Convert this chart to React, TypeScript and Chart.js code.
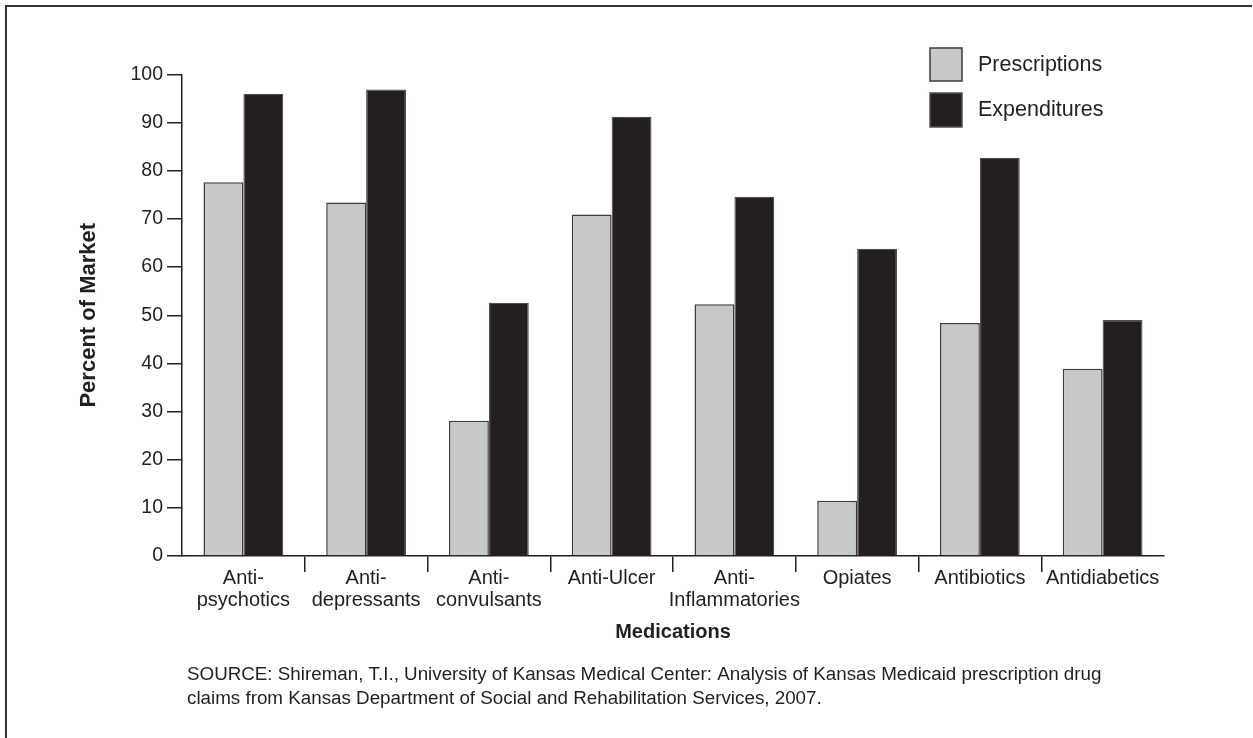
import { useEffect, useRef } from 'react';
import { Chart, registerables } from 'chart.js';

Chart.register(...registerables);

const categories: (string | string[])[] = [
  ['Anti-', 'psychotics'],
  ['Anti-', 'depressants'],
  ['Anti-', 'convulsants'],
  'Anti-Ulcer',
  ['Anti-', 'Inflammatories'],
  'Opiates',
  'Antibiotics',
  'Antidiabetics',
];
const prescriptions = [77.6, 73.4, 28.1, 70.9, 52.3, 11.5, 48.4, 38.9];
const expenditures = [96.0, 96.9, 52.6, 91.2, 74.6, 63.8, 82.7, 49.0];
const seriesLabels = ['Prescriptions', 'Expenditures'];
const yTitle = 'Percent of Market';
const xTitle = 'Medications';
const sourceLines = [
  'SOURCE: Shireman, T.I., University of Kansas Medical Center: Analysis of Kansas Medicaid prescription drug',
  'claims from Kansas Department of Social and Rehabilitation Services, 2007.',
];

const FONT = '"Liberation Sans", Arial, Helvetica, sans-serif';
const INK = '#231f20';
const GRAY = '#c7c8ca';

const decorPlugin = {
  id: 'decor',
  beforeDraw(chart: any) {
    const ctx = chart.ctx;
    ctx.save();
    ctx.fillStyle = '#ffffff';
    ctx.fillRect(0, 0, chart.width, chart.height);
    ctx.restore();
  },
  afterDraw(chart: any) {
    const ctx = chart.ctx;
    ctx.save();
    // frame
    ctx.strokeStyle = '#333333';
    ctx.lineWidth = 2;
    ctx.beginPath();
    ctx.moveTo(6, chart.height);
    ctx.lineTo(6, 6);
    ctx.lineTo(chart.width - 1, 6);
    ctx.stroke();

    // legend
    const boxes = [
      { y: 48, h: 33, ty: 65 },
      { y: 93, h: 34, ty: 110 },
    ];
    chart.data.datasets.forEach((ds: any, i: number) => {
      const b = boxes[i];
      ctx.fillStyle = ds.backgroundColor;
      ctx.fillRect(930, b.y, 32, b.h);
      ctx.strokeStyle = ds.borderColor;
      ctx.lineWidth = 1.5;
      ctx.strokeRect(930, b.y, 32, b.h);
      ctx.fillStyle = INK;
      ctx.font = `21.5px ${FONT}`;
      ctx.textAlign = 'left';
      ctx.textBaseline = 'middle';
      ctx.fillText(ds.label, 978, b.ty);
    });

    // source
    ctx.fillStyle = INK;
    ctx.font = `18.8px ${FONT}`;
    ctx.textAlign = 'left';
    ctx.textBaseline = 'alphabetic';
    sourceLines.forEach((line, i) => {
      ctx.fillText(line, 187, 680 + i * 24);
    });
    ctx.restore();
  },
};

export default function App() {
  const ref = useRef<HTMLCanvasElement | null>(null);

  useEffect(() => {
    if (!ref.current) return;
    const chart = new Chart(ref.current, {
      type: 'bar',
      data: {
        labels: categories,
        datasets: [
          {
            label: seriesLabels[0],
            data: prescriptions,
            backgroundColor: GRAY,
            borderColor: '#3c3c3e',
            borderWidth: 1.5,
            categoryPercentage: 0.65,
            barPercentage: 1,
          },
          {
            label: seriesLabels[1],
            data: expenditures,
            backgroundColor: INK,
            borderColor: '#505052',
            borderWidth: 1.2,
            categoryPercentage: 0.65,
            barPercentage: 1,
          },
        ],
      },
      options: {
        responsive: false,
        animation: false,
        devicePixelRatio: 1,
        layout: { padding: { top: 74.5, right: 89, bottom: 92, left: 0 } },
        plugins: {
          legend: { display: false },
          tooltip: { enabled: false },
        },
        scales: {
          x: {
            type: 'category',
            offset: true,
            afterFit: (s: any) => {
              s.height = 90;
            },
            grid: {
              offset: true,
              drawOnChartArea: false,
              drawTicks: true,
              tickLength: 16,
              lineWidth: 1.5,
              color: (c: any) => (c.type !== 'tick' || c.index === 0 ? 'rgba(0,0,0,0)' : INK),
            },
            border: { display: true, color: INK, width: 1.5 },
            ticks: {
              color: INK,
              font: { family: FONT, size: 20, lineHeight: 1.1 },
              padding: -5,
              maxRotation: 0,
              autoSkip: false,
            },
            title: {
              display: true,
              text: xTitle,
              color: INK,
              font: { family: FONT, size: 20, weight: 'bold', lineHeight: 1.2 },
              padding: { top: 0, bottom: 2 },
            },
          },
          y: {
            min: 0,
            max: 100,
            afterFit: (s: any) => {
              s.width = 182;
            },
            grid: {
              drawOnChartArea: false,
              drawTicks: true,
              tickLength: 15,
              lineWidth: 1.5,
              color: INK,
            },
            border: { display: true, color: INK, width: 1.5 },
            ticks: {
              stepSize: 10,
              color: INK,
              font: { family: FONT, size: 19.5 },
              padding: 4,
            },
            title: {
              display: true,
              text: yTitle,
              color: INK,
              font: { family: FONT, size: 22, weight: 'bold', lineHeight: 1.2 },
              padding: { top: 76, bottom: 0 },
            },
          },
        },
      },
      plugins: [decorPlugin],
    } as any);
    return () => chart.destroy();
  }, []);

  return (
    <div style={{ position: 'fixed', left: 0, top: 0, width: 1253, height: 738, background: '#fff' }}>
      <canvas ref={ref} width={1253} height={738} style={{ display: 'block', width: 1253, height: 738 }} />
    </div>
  );
}
